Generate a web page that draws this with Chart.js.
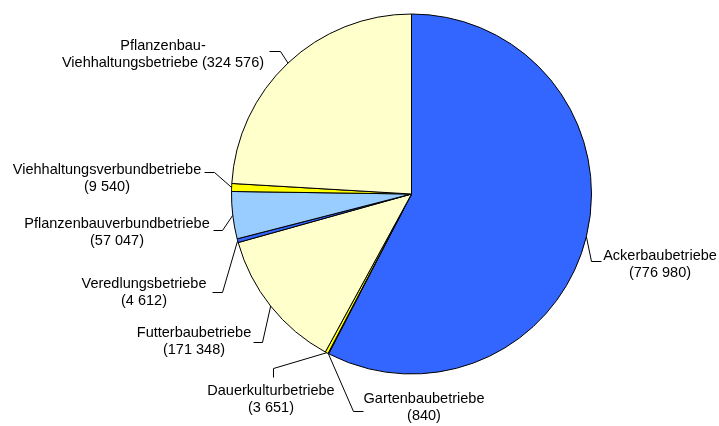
<!DOCTYPE html>
<html>
<head>
<meta charset="utf-8">
<script src="https://cdn.jsdelivr.net/npm/chart.js@4/dist/chart.umd.min.js"></script>
<style>
  html, body { margin: 0; padding: 0; background: #ffffff; }
  #wrap { width: 719px; height: 426px; position: relative; }
</style>
</head>
<body>
<div id="wrap"><canvas id="c" width="719" height="426"></canvas></div>
<script>
// ---- data ----
const categories = [
  'Ackerbaubetriebe',
  'Gartenbaubetriebe',
  'Dauerkulturbetriebe',
  'Futterbaubetriebe',
  'Veredlungsbetriebe',
  'Pflanzenbauverbundbetriebe',
  'Viehhaltungsverbundbetriebe',
  'Pflanzenbau-Viehhaltungsbetriebe'
];
const values = [776980, 840, 3651, 171348, 4612, 57047, 9540, 324576];
const sliceColors = ['#3366FF', '#99CCFF', '#FFFF00', '#FFFFCC', '#3366FF', '#99CCFF', '#FFFF00', '#FFFFCC'];

// ---- label layout (positions only) ----
// cx: text centre x, by: first baseline, elbow: leader points after the slice edge
const labelLayout = [
  { cx: 660, by: 260, elbow: [[591, 261], [601, 261]] },
  { cx: 424, by: 403, elbow: [[353, 411], [363, 411]] },
  { cx: 271, by: 395, elbow: [[273, 368], [273, 377]] },
  { cx: 194, by: 337, elbow: [[262, 342], [253, 342]] },
  { cx: 144, by: 288, elbow: [[222, 292], [212, 292]] },
  { cx: 117, by: 228, elbow: [[222, 230], [213, 230]] },
  { cx: 107, by: 174, elbow: [[214, 172], [204, 172]] },
  { cx: 163, by: 50,  elbow: [[280, 51], [269, 51]], split: 'Pflanzenbau-' }
];

function fmt(v) {
  return String(v).replace(/\B(?=(\d{3})+(?!\d))/g, ' ');
}

const labelPlugin = {
  id: 'pieLabels',
  afterDraw(chart) {
    const ctx = chart.ctx;
    const meta = chart.getDatasetMeta(0);
    ctx.save();
    ctx.font = '14.5px "Liberation Sans", Arial, sans-serif';
    ctx.fillStyle = '#000000';
    ctx.strokeStyle = '#000000';
    ctx.lineWidth = 1;
    ctx.textAlign = 'center';
    ctx.textBaseline = 'alphabetic';
    meta.data.forEach((arc, i) => {
      const p = arc.getProps(['x', 'y', 'startAngle', 'endAngle', 'outerRadius'], true);
      const mid = (p.startAngle + p.endAngle) / 2;
      const sx = p.x + Math.cos(mid) * p.outerRadius;
      const sy = p.y + Math.sin(mid) * p.outerRadius;
      const L = labelLayout[i];
      ctx.beginPath();
      ctx.moveTo(sx, sy);
      L.elbow.forEach(pt => ctx.lineTo(pt[0] + 0.5, pt[1] + 0.5));
      ctx.stroke();
      let lines;
      if (L.split) {
        lines = [L.split, categories[i].slice(L.split.length) + ' (' + fmt(values[i]) + ')'];
      } else {
        lines = [categories[i], '(' + fmt(values[i]) + ')'];
      }
      lines.forEach((t, k) => ctx.fillText(t, L.cx, L.by + k * 17));
    });
    ctx.restore();
  }
};

new Chart(document.getElementById('c'), {
  type: 'pie',
  data: {
    labels: categories,
    datasets: [{
      data: values,
      backgroundColor: sliceColors,
      borderColor: '#000000',
      borderWidth: 1,
      hoverOffset: 0,
      offset: 0
    }]
  },
  options: {
    responsive: false,
    animation: false,
    events: [],
    layout: { padding: { left: 231, right: 127, top: 13.5, bottom: 51.5 } },
    plugins: {
      legend: { display: false },
      tooltip: { enabled: false },
      title: { display: false }
    }
  },
  plugins: [labelPlugin]
});
</script>
</body>
</html>
